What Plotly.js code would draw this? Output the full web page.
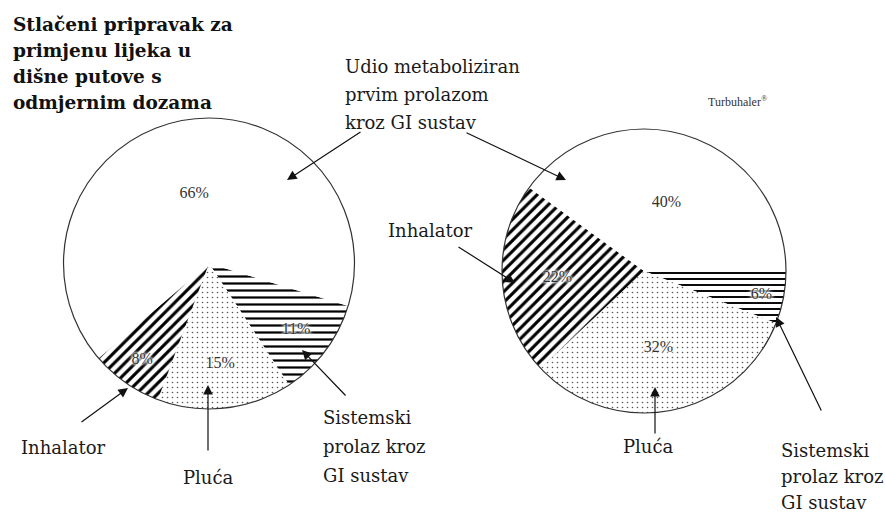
<!DOCTYPE html>
<html><head><meta charset="utf-8">
<script src="https://cdn.plot.ly/plotly-3.0.1.min.js"></script>
<style>html,body{margin:0;padding:0;background:#fff;}#chart{width:885px;height:513px;}</style>
</head><body><div id="chart"></div>
<script>
// ---- data ----
const categories = ['Sistemski prolaz kroz GI sustav', 'Pluća', 'Inhalator', 'Udio metaboliziran prvim prolazom kroz GI sustav'];
const pmdiValues = [11, 15, 8, 66];
const turbuhalerValues = [6, 32, 22, 40];
const titleLines = ['Stlačeni pripravak za', 'primjenu lijeka u', 'dišne putove s', 'odmjernim dozama'];
const metabLines = ['Udio metaboliziran', 'prvim prolazom', 'kroz GI sustav'];
const sistemskiLines = ['Sistemski', 'prolaz kroz', 'GI sustav'];
const inhalatorLabel = 'Inhalator';
const plucaLabel = 'Pluća';
const deviceLabel = 'Turbuhaler<sup>®</sup>';

// ---- layout helpers (pixel -> paper) ----
const W = 885, H = 513;
const px = x => x / W;
const py = y => 1 - y / H;
const FONT = '"DejaVu Serif", serif';
const TXT = '#1a1a1a';

function pieTrace(values, box, rotation, sizes) {
  return {
    type: 'pie', values: values, labels: categories, sort: false,
    direction: 'clockwise', rotation: rotation,
    domain: {x: [px(box[0]), px(box[2])], y: [py(box[3]), py(box[1])]},
    marker: {
      colors: ['#fff', '#fff', '#fff', '#fff'],
      line: {width: 0},
      pattern: {shape: ['-', '.', '/', ''], fgcolor: ['#000', '#555', '#000', '#000'], bgcolor: '#fff',
        size: sizes, solidity: [0.32, 0.08, 0.42, 0.3]}
    },
    texttemplate: '%{value}%', textposition: 'inside', insidetextorientation: 'horizontal',
    textfont: {family: 'Liberation Serif', size: 16, color: '#333',
      shadow: '0 0 2px #fff, 0 0 3px #fff, 0 0 4px #fff, 0 0 5px #fff'},
    hoverinfo: 'none', showlegend: false
  };
}
function outline(box) {
  return {
    type: 'pie', values: [1], labels: ['o'], sort: false, textinfo: 'none',
    domain: {x: [px(box[0]), px(box[2])], y: [py(box[3]), py(box[1])]},
    marker: {colors: ['rgba(0,0,0,0)'], line: {color: '#333', width: 1.2}},
    hoverinfo: 'none', showlegend: false
  };
}
const leftBox = [63, 118, 355, 409];
const rightBox = [502, 129, 786, 413];

const data = [
  pieTrace(pmdiValues, leftBox, 107, [7, 5, 7.5, 8]),
  pieTrace(turbuhalerValues, rightBox, 90, [6, 5, 7.5, 8]),
  outline(leftBox), outline(rightBox)
];

const ann = [];
function textLines(lines, x, y0, step, font) {
  lines.forEach((t, i) => ann.push({
    text: t, x: px(x), y: py(y0 + i * step), xref: 'paper', yref: 'paper',
    xanchor: 'left', yanchor: 'middle', showarrow: false,
    font: font || {family: FONT, size: 18, color: TXT}
  }));
}
function arrow(head, tail) {
  ann.push({text: '', x: px(head[0]), y: py(head[1]), xref: 'paper', yref: 'paper',
    ax: tail[0] - head[0], ay: tail[1] - head[1], showarrow: true,
    arrowhead: 2, arrowsize: 1.6, arrowwidth: 1.2, arrowcolor: '#111'});
}
textLines(titleLines.map(t => '<b>' + t + '</b>'), 11, 24, 26.3, {family: FONT, size: 18.5, color: '#111'});
textLines(metabLines, 343, 67, 27.5);
textLines(sistemskiLines, 321, 417, 29);
textLines(sistemskiLines, 779, 450, 26);
textLines([inhalatorLabel], 19, 447, 0);
textLines([inhalatorLabel], 386, 230, 0);
textLines([plucaLabel], 181, 477, 0);
textLines([plucaLabel], 621, 446, 0);
textLines([deviceLabel], 706, 101, 0, {family: 'Liberation Serif', size: 12, color: '#333'});

arrow([287, 180], [362, 131]);
arrow([566, 180], [465, 132]);
arrow([128, 388], [80, 423]);
arrow([208, 385], [208, 452]);
arrow([302, 350], [347, 397]);
arrow([515, 283], [457, 246]);
arrow([655, 387], [655, 435]);
arrow([776, 317], [822, 412]);

const layout = {
  width: W, height: H, margin: {l: 0, r: 0, t: 0, b: 0},
  paper_bgcolor: '#fff', plot_bgcolor: '#fff', showlegend: false,
  annotations: ann
};
Plotly.newPlot('chart', data, layout, {displayModeBar: false, staticPlot: true});
</script></body></html>
